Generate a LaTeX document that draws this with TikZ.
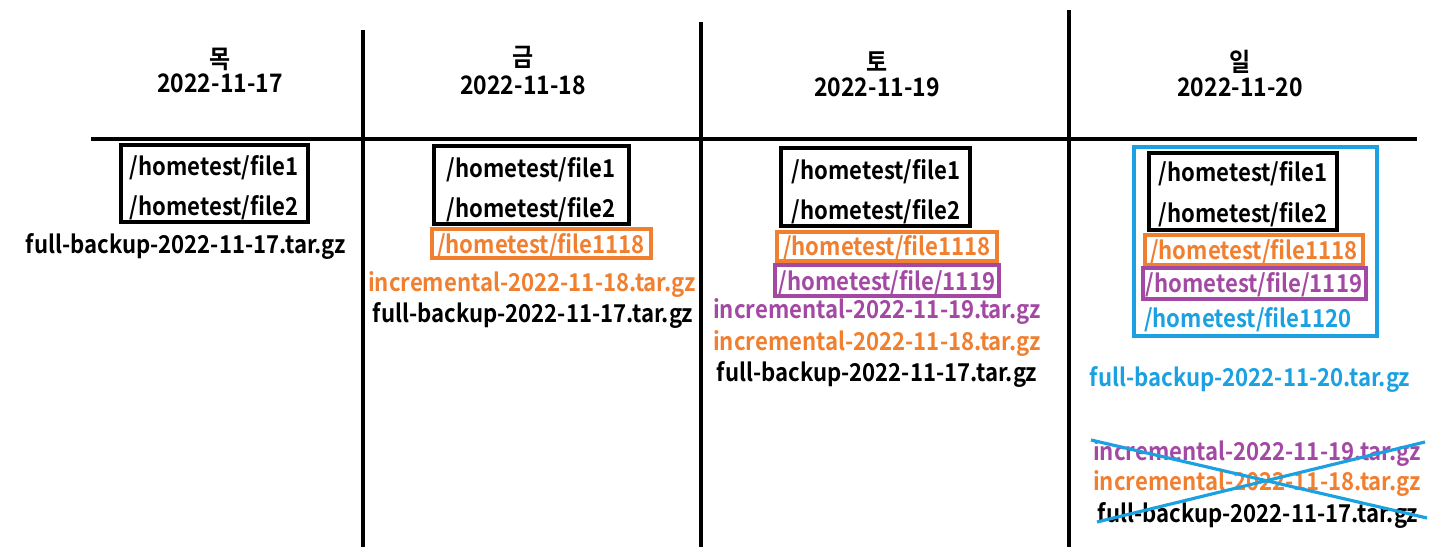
\documentclass[tikz,border=0pt]{standalone}
\usepackage{fontspec}
\setmainfont[FakeStretch=0.9]{Noto Sans CJK KR Bold}
\usepackage{tikz}
\usetikzlibrary{calc, positioning}
\definecolor{bkorange}{HTML}{F07F30}
\definecolor{bkpurple}{HTML}{A349A4}
\definecolor{bkblue}{HTML}{1BA1E2}

\begin{document}
\begin{tikzpicture}[x=0.02cm, y=-0.02cm,
    grid/.style={line width=2.2pt},
    boxline/.style={line width=2.1pt},
    lbl/.style={inner sep=0pt, yshift=-1.5pt, font=\fontsize{14pt}{16pt}\selectfont},
    day/.style={inner sep=0pt, font=\fontsize{14.5pt}{16pt}\selectfont}]
            \useasboundingbox (0,0) rectangle (1447,547);

            % grid
            \draw[grid] (91,139) -- (1417,139);
            \draw[grid] (363,30) -- (363,547);
            \draw[grid] (701,22) -- (701,547);
            \draw[grid] (1069,10) -- (1069,547);

            % headers
            \node[day] (thu) at (220,59) {목};
            \node[day] (thuDate) at (220,83) {2022-11-17};
            \node[day] (fri) at (523,57) {금};
            \node[day] (friDate) at (523,85) {2022-11-18};
            \node[day] (sat) at (877,62) {토};
            \node[day] (satDate) at (877,87) {2022-11-19};
            \node[day] (sun) at (1240,62) {일};
            \node[day] (sunDate) at (1240,87) {2022-11-20};

            % Thursday
            \draw[boxline] (121,145) rectangle (308,222);
            \node[lbl] (thuF1) at (214,165) {/hometest/file1};
            \node[lbl] (thuF2) at (214,205) {/hometest/file2};
            \node[lbl] (thuFull) at (186,244) {full-backup-2022-11-17.tar.gz};

            % Friday
            \draw[boxline] (434,146) rectangle (629,224);
            \node[lbl] (friF1) at (531,167) {/hometest/file1};
            \node[lbl] (friF2) at (531,207) {/hometest/file2};
            \draw[boxline, bkorange] (432,229) rectangle (651,258);
            \node[lbl, bkorange] (friF1118) at (541,243) {/hometest/file1118};
            \node[lbl, bkorange] (friInc18) at (532,282) {incremental-2022-11-18.tar.gz};
            \node[lbl] (friFull) at (533,313) {full-backup-2022-11-17.tar.gz};

            % Saturday
            \draw[boxline] (781,148) rectangle (970,226);
            \node[lbl] (satF1) at (876,169) {/hometest/file1};
            \node[lbl] (satF2) at (876,209) {/hometest/file2};
            \draw[boxline, bkorange] (777,232) rectangle (997,261);
            \node[lbl, bkorange] (satF1118) at (887,245) {/hometest/file1118};
            \draw[boxline, bkpurple] (775,265) rectangle (999,296);
            \node[lbl, bkpurple] (satF1119) at (887,280) {/hometest/file/1119};
            \node[lbl, bkpurple] (satInc19) at (877,309) {incremental-2022-11-19.tar.gz};
            \node[lbl, bkorange] (satInc18) at (877,341) {incremental-2022-11-18.tar.gz};
            \node[lbl] (satFull) at (877,372) {full-backup-2022-11-17.tar.gz};

            % Sunday
            \draw[boxline, bkblue] (1134,147) rectangle (1377,336);
            \draw[boxline] (1149,153) rectangle (1337,230);
            \node[lbl] (sunF1) at (1243,171) {/hometest/file1};
            \node[lbl] (sunF2) at (1243,212) {/hometest/file2};
            \draw[boxline, bkorange] (1145,235) rectangle (1363,265);
            \node[lbl, bkorange] (sunF1118) at (1254,249) {/hometest/file1118};
            \draw[boxline, bkpurple] (1143,268) rectangle (1366,299);
            \node[lbl, bkpurple] (sunF1119) at (1254,282) {/hometest/file/1119};
            \node[lbl, bkblue] (sunF1120) at (1248,317) {/hometest/file1120};
            \node[lbl, bkblue] (sunFull) at (1250,377) {full-backup-2022-11-20.tar.gz};

            % old chain, removed
            \node[lbl, bkpurple] (oldInc19) at (1257,451) {incremental-2022-11-19.tar.gz};
            \node[lbl, bkorange] (oldInc18) at (1257,481) {incremental-2022-11-18.tar.gz};
            \node[lbl] (oldFull) at (1258,513) {full-backup-2022-11-17.tar.gz};
            \coordinate (xA) at (1091,440);
            \coordinate (xB) at (1427,518);
            \coordinate (xC) at (1097,522);
            \coordinate (xD) at (1425,442);
            \draw[bkblue, line width=1.8pt] (xA) -- (xB);
            \draw[bkblue, line width=1.8pt] (xC) -- (xD);
        \end{tikzpicture}
\end{document}
